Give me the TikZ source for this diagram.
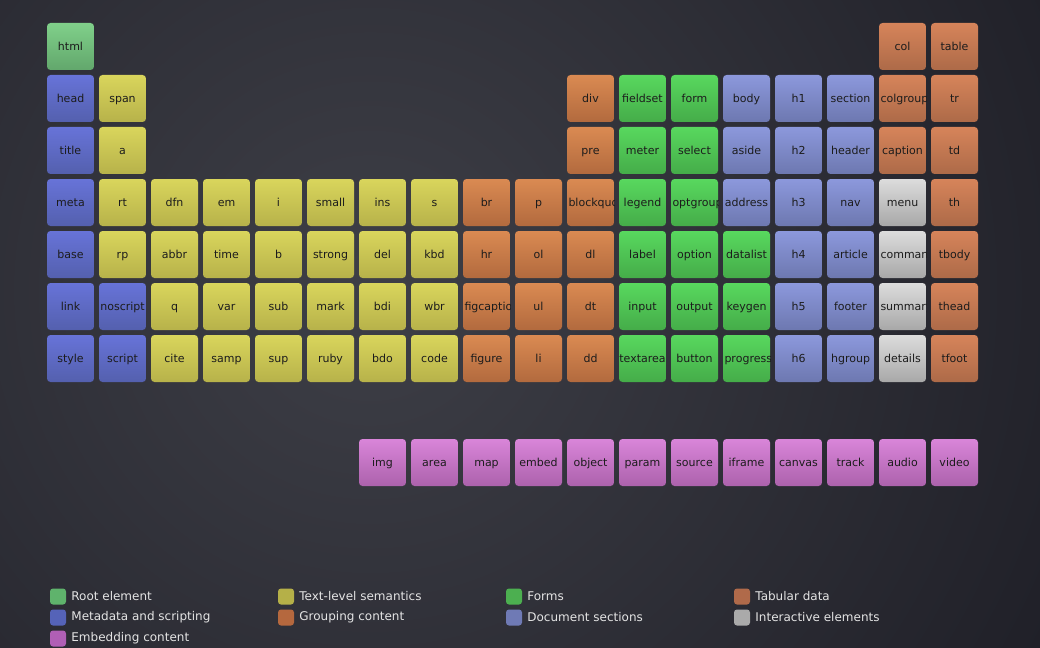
\documentclass[tikz,border=0pt]{standalone}
\usepackage{fontspec}
\setmainfont{DejaVu Sans}
\usetikzlibrary{positioning}

\definecolor{bginner}{HTML}{3E3F47}
\definecolor{bgouter}{HTML}{1C1C24}
\definecolor{tiletext}{HTML}{1C1C1C}
\definecolor{legcol}{HTML}{E4E4E4}
\definecolor{roottop}{HTML}{80D08A}
\definecolor{rootbot}{HTML}{62A76C}
\definecolor{metatop}{HTML}{6773D8}
\definecolor{metabot}{HTML}{5460AE}
\definecolor{texttop}{HTML}{D9D55C}
\definecolor{textbot}{HTML}{B7B24A}
\definecolor{grouptop}{HTML}{DA8A52}
\definecolor{groupbot}{HTML}{B26A3E}
\definecolor{formtop}{HTML}{58D85E}
\definecolor{formbot}{HTML}{45AC49}
\definecolor{secttop}{HTML}{8C98DC}
\definecolor{sectbot}{HTML}{6D78B0}
\definecolor{tabtop}{HTML}{D6845A}
\definecolor{tabbot}{HTML}{AD6A48}
\definecolor{intertop}{HTML}{DCDCDC}
\definecolor{interbot}{HTML}{A8A8A8}
\definecolor{embedtop}{HTML}{D985D9}
\definecolor{embedbot}{HTML}{AC62AC}
\definecolor{lgroot}{HTML}{5FB36C}
\definecolor{lgmeta}{HTML}{5563B8}
\definecolor{lgtext}{HTML}{B5B048}
\definecolor{lggroup}{HTML}{B5683E}
\definecolor{lgform}{HTML}{4CAF50}
\definecolor{lgsect}{HTML}{6F7AB5}
\definecolor{lgtab}{HTML}{B06A4A}
\definecolor{lginter}{HTML}{AAAAAA}
\definecolor{lgembed}{HTML}{B05FB5}

\begin{document}
\begin{tikzpicture}[
    x=1pt, y=-1pt,
    tile/.style={rectangle, rounded corners=3.5pt, minimum width=47pt, minimum height=47pt,
                 inner sep=0pt, text height=9.5pt, text depth=1.5pt, text=tiletext,
                 font=\fontsize{11}{13}\selectfont},
    rootbox/.style={tile, top color=roottop, bottom color=rootbot},
    metabox/.style={tile, top color=metatop, bottom color=metabot},
    textbox/.style={tile, top color=texttop, bottom color=textbot},
    groupbox/.style={tile, top color=grouptop, bottom color=groupbot},
    formbox/.style={tile, top color=formtop, bottom color=formbot},
    sectbox/.style={tile, top color=secttop, bottom color=sectbot},
    tabbox/.style={tile, top color=tabtop, bottom color=tabbot},
    interbox/.style={tile, top color=intertop, bottom color=interbot},
    embedbox/.style={tile, top color=embedtop, bottom color=embedbot},
    cut/.style={path picture={\node[anchor=west, inner sep=0pt, text height=9.5pt,
                 text depth=1.5pt, text=tiletext, font=\fontsize{11}{13}\selectfont] (#1 text)
                 at ([xshift=0.3pt]path picture bounding box.west) {\makebox[45pt][l]{#1}};}},
    swatch/.style={rectangle, rounded corners=3pt, minimum size=16pt, inner sep=0pt},
    legtext/.style={text=legcol, font=\fontsize{12}{14}\selectfont, inner sep=0pt}
]
    % background
    \useasboundingbox (0,0) rectangle (1040,647);
    \begin{scope}
        \clip (0,0) rectangle (1040,647);
        \shade[inner color=bginner, outer color=bgouter] (370,290) circle (860);
    \end{scope}

    % root
    \node[rootbox] (html) at (70.5,46.5) {html};

    % metadata and scripting
    \foreach \name/\c/\r in {head/1/2, title/1/3, meta/1/4, base/1/5, link/1/6,
                             style/1/7, noscript/2/6, script/2/7}
        \node[metabox] (\name) at ({18.5+52*\c},{-5.5+52*\r}) {\name};

    % text-level semantics
    \foreach \name/\c/\r in {span/2/2, a/2/3, rt/2/4, dfn/3/4, em/4/4, i/5/4, small/6/4,
                             ins/7/4, s/8/4, rp/2/5, abbr/3/5, time/4/5, b/5/5, strong/6/5,
                             del/7/5, kbd/8/5, q/3/6, var/4/6, sub/5/6, mark/6/6, bdi/7/6,
                             wbr/8/6, cite/3/7, samp/4/7, sup/5/7, ruby/6/7, bdo/7/7, code/8/7}
        \node[textbox] (\name) at ({18.5+52*\c},{-5.5+52*\r}) {\name};

    % grouping content
    \foreach \name/\c/\r in {div/11/2, pre/11/3, br/9/4, p/10/4, hr/9/5, ol/10/5, dl/11/5,
                             ul/10/6, dt/11/6, figure/9/7, li/10/7, dd/11/7}
        \node[groupbox] (\name) at ({18.5+52*\c},{-5.5+52*\r}) {\name};
    \node[groupbox, cut=blockquote] (blockquote) at (590.5,202.5) {};
    \node[groupbox, cut=figcaption] (figcaption) at (486.5,306.5) {};

    % forms
    \foreach \name/\c/\r in {fieldset/12/2, form/13/2, meter/12/3, select/13/3, legend/12/4,
                             label/12/5, option/13/5, datalist/14/5, input/12/6, output/13/6,
                             keygen/14/6, textarea/12/7, button/13/7}
        \node[formbox] (\name) at ({18.5+52*\c},{-5.5+52*\r}) {\name};
    \node[formbox, cut=optgroup] (optgroup) at (694.5,202.5) {};
    \node[formbox, cut=progress] (progress) at (746.5,358.5) {};

    % document sections
    \foreach \name/\c/\r in {body/14/2, h1/15/2, section/16/2, aside/14/3, h2/15/3,
                             header/16/3, address/14/4, h3/15/4, nav/16/4, h4/15/5,
                             article/16/5, h5/15/6, footer/16/6, h6/15/7, hgroup/16/7}
        \node[sectbox] (\name) at ({18.5+52*\c},{-5.5+52*\r}) {\name};

    % tabular data
    \foreach \name/\c/\r in {col/17/1, table/18/1, tr/18/2, caption/17/3, td/18/3,
                             th/18/4, tbody/18/5, thead/18/6, tfoot/18/7}
        \node[tabbox] (\name) at ({18.5+52*\c},{-5.5+52*\r}) {\name};
    \node[tabbox, cut=colgroup] (colgroup) at (902.5,98.5) {};

    % interactive elements
    \node[interbox] (menu) at (902.5,202.5) {menu};
    \node[interbox, cut=command] (command) at (902.5,254.5) {};
    \node[interbox, cut=summary] (summary) at (902.5,306.5) {};
    \node[interbox] (details) at (902.5,358.5) {details};

    % embedding content
    \foreach \name/\c in {img/7, area/8, map/9, embed/10, object/11, param/12,
                          source/13, iframe/14, canvas/15, track/16, audio/17, video/18}
        \node[embedbox] (\name) at ({18.5+52*\c},462.5) {\name};

    % legend
    \node[swatch, fill=lgroot] (lg-root) at (58,596.5) {};
    \node[legtext, right=5pt of lg-root] (lt-root) {Root element};
    \node[swatch, fill=lgmeta] (lg-meta) at (58,617.5) {};
    \node[legtext, right=5pt of lg-meta] (lt-meta) {Metadata and scripting};
    \node[swatch, fill=lgembed] (lg-embed) at (58,638.5) {};
    \node[legtext, right=5pt of lg-embed] (lt-embed) {Embedding content};
    \node[swatch, fill=lgtext] (lg-text) at (286,596.5) {};
    \node[legtext, right=5pt of lg-text] (lt-text) {Text-level semantics};
    \node[swatch, fill=lggroup] (lg-group) at (286,617.5) {};
    \node[legtext, right=5pt of lg-group] (lt-group) {Grouping content};
    \node[swatch, fill=lgform] (lg-form) at (514,596.5) {};
    \node[legtext, right=5pt of lg-form] (lt-form) {Forms};
    \node[swatch, fill=lgsect] (lg-sect) at (514,617.5) {};
    \node[legtext, right=5pt of lg-sect] (lt-sect) {Document sections};
    \node[swatch, fill=lgtab] (lg-tab) at (742,596.5) {};
    \node[legtext, right=5pt of lg-tab] (lt-tab) {Tabular data};
    \node[swatch, fill=lginter] (lg-inter) at (742,617.5) {};
    \node[legtext, right=5pt of lg-inter] (lt-inter) {Interactive elements};
\end{tikzpicture}
\end{document}
